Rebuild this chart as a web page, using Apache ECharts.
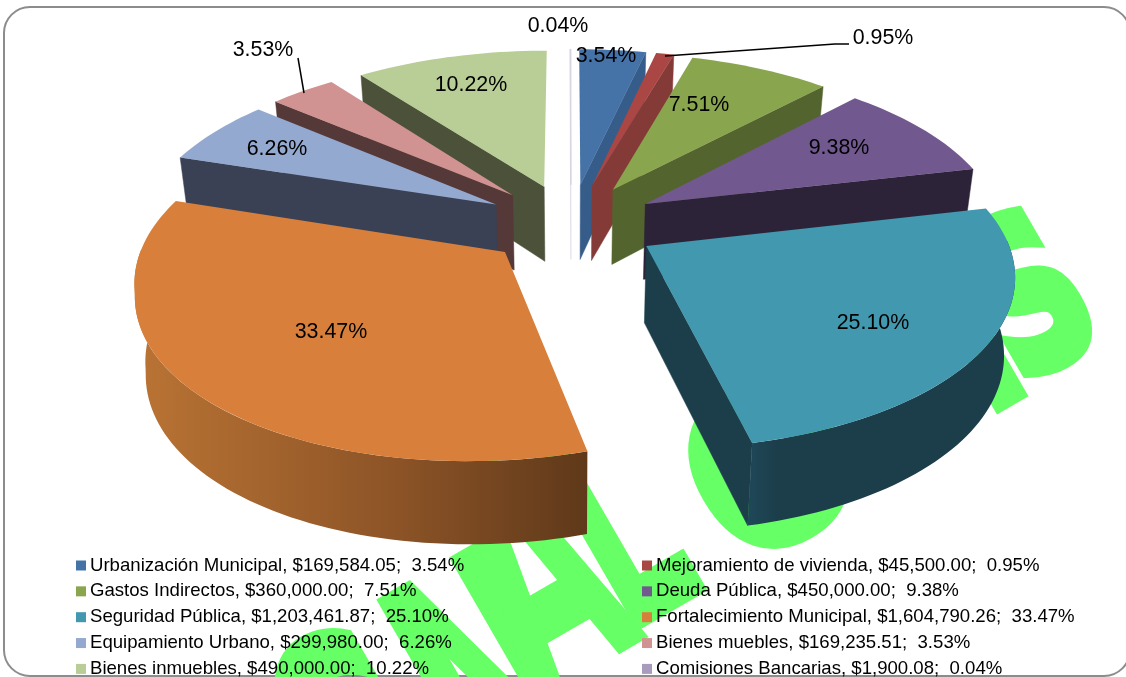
<!DOCTYPE html>
<html>
<head>
<meta charset="utf-8">
<title>Distribución</title>
<script src="https://cdn.jsdelivr.net/npm/echarts@6/dist/echarts.min.js"></script>
<style>
html,body{margin:0;padding:0;background:#fff;overflow:hidden}
#main{width:1126px;height:677px}
</style>
</head>
<body>
<div id="main"></div>
<script>
const names = ["Urbanización Municipal","Mejoramiento de vivienda","Gastos Indirectos","Deuda Pública","Seguridad Pública","Fortalecimiento Municipal","Equipamiento Urbano","Bienes muebles","Bienes inmuebles","Comisiones Bancarias"]
const amounts = [169584.05,45500.00,360000.00,450000.00,1203461.87,1604790.26,299980.00,169235.51,490000.00,1900.08]
const percents = ["3.54%","0.95%","7.51%","9.38%","25.10%","33.47%","6.26%","3.53%","10.22%","0.04%"]
const topColors = ["#4572a7","#aa4643","#89a54e","#71588f","#4198af","#d8803b","#93a9cf","#d19392","#b9cd96","#a99bbd"]
const wallColors = ["#365d8a","#843a36","#53642e","#2d2338","#1c3d4a","#8a5428","#3a4154","#553838","#4b5239","#d8d4e2"]
// back to front
const drawOrder = [9,8,0,1,2,7,6,3,5,4]

// pie projection
const cx = 571, cy = 224, scaleX = 356, scaleY = 166, persp = 0.146, explode = 0.245

const total = amounts.reduce((a,b)=>a+b,0)
let run = 0
const spans = amounts.map(v=>{
  const s = run/total*360
  run += v
  return [s, run/total*360]
})

function rad(d){ return d*Math.PI/180 }

function point(i, deg, r, low){
  const mid = rad((spans[i][0]+spans[i][1])/2)
  const u = explode*Math.sin(mid) + r*Math.sin(rad(deg))
  const v = -explode*Math.cos(mid) - r*Math.cos(rad(deg))
  const w = 1/(1-persp*v)
  let x = cx + scaleX*u*w
  let y = cy + scaleY*v*w
  if(low){
    x = cx + (x-cx)*0.975
    y += 76 + 6*v
  }
  return [x,y]
}

function arc(i, a, b, low){
  const pts = []
  const n = Math.max(2, Math.ceil((b-a)/1.5))
  for(let k=0;k<=n;k++){
    const deg = a+(b-a)*k/n
    // the big front left slice swells a little in the picture
    const r = (i==5 && deg<257) ? 1+0.035*Math.sin(Math.PI*(deg-spans[5][0])/(257-spans[5][0])) : 1
    pts.push(point(i, deg, r, low))
  }
  return pts
}

function makeRender(i){
  return function(params, api){
    const sweep = api.value(0)/total*360
    const a = spans[i][0], b = a+sweep
    const kids = []
    const wall = wallColors[i]
    const wallStyle = {fill:wall, stroke:wall, lineWidth:0.5}
    // side faces, only those turned to the viewer
    if(-Math.cos(rad(a-90))>0){
      kids.push({type:"polygon",shape:{points:[point(i,a,0),point(i,a,1),point(i,a,1,true),point(i,a,0,true)]},style:wallStyle})
    }
    if(-Math.cos(rad(b+90))>0){
      kids.push({type:"polygon",shape:{points:[point(i,b,0),point(i,b,1),point(i,b,1,true),point(i,b,0,true)]},style:wallStyle})
    }
    // outer rim, between the two outermost points of the ellipse
    if(i==4 || i==5){
      const ra = Math.max(a,88), rb = Math.min(b,271)
      let fill = new echarts.graphic.LinearGradient(0,0,1,0,[{offset:0,color:"#1f4858"},{offset:0.12,color:"#1c3d4a"},{offset:1,color:"#1c3d4a"}])
      if(i==5) fill = new echarts.graphic.LinearGradient(1,0,0,0,[{offset:0,color:"#5f391a"},{offset:0.43,color:"#8d5427"},{offset:1,color:"#ba7434"}])
      kids.push({type:"polygon",shape:{points:arc(i,ra,rb).concat(arc(i,ra,rb,true).reverse())},style:{fill:fill}})
    }
    // top face, the tiny last slice is only a pale line
    const face = i==9 ? wallColors[9] : topColors[i]
    kids.push({type:"polygon",shape:{points:[point(i,a,0)].concat(arc(i,a,b))},style:{fill:face,stroke:i==9?face:null,lineWidth:i==9?1:0}})
    return {type:"group",children:kids}
  }
}

const money = v=>"$"+v.toLocaleString("en-US",{minimumFractionDigits:2,maximumFractionDigits:2})
const legendText = name=>{
  const i = names.indexOf(name)
  return name+", "+money(amounts[i])+";  "+percents[i]
}
const legendBase = {
  orient:"vertical",
  top:556,
  height:200,
  padding:0,
  itemWidth:10,
  itemHeight:10,
  itemGap:6.85,
  icon:"rect",
  selectedMode:false,
  formatter:legendText,
  textStyle:{color:"#000",fontFamily:"Liberation Sans",fontSize:18.6,lineHeight:17,padding:[0,0,0,-1]},
  z:12
}

// label places on the picture
const labelPlaces = [[606,56],[883,38],[699,105],[839,148],[873,323],[331,332],[277,149],[263,50],[471,85],[558,26]]
const labels = percents.map((t,i)=>({
  type:"text",x:labelPlaces[i][0],y:labelPlaces[i][1],z:20,silent:true,
  style:{text:t,fill:"#000",font:'21.4px "Liberation Sans"',align:"center",verticalAlign:"middle"}
}))

// stamp behind the chart: letter, x, y, font size, x squeeze, outline
const stampLetters = [["G",378,785,340,0.5,6],["N",508,710,340,0.52,4],["A",546,592,340,0.5,4],["L",626,540,320,0.48,3],["O",780,482,210,0.88,14],["I",982,352,210,0.68,14],["S",1037,311,210,0.68,14]]
const stamp = stampLetters.map(l=>({
  type:"text",x:l[1],y:l[2],rotation:rad(30),scaleX:l[4],scaleY:1,z:-5,silent:true,
  style:{text:l[0],font:'bold '+l[3]+'px "DejaVu Sans"',fill:"#66ff66",stroke:"#66ff66",lineWidth:l[5],lineJoin:"miter",align:"center",verticalAlign:"middle"}
}))

const myChart = echarts.init(document.getElementById("main"),null,{renderer:"canvas"})
myChart.setOption({
  backgroundColor:"#fff",
  animation:false,
  color:topColors,
  legend:[
    Object.assign({},legendBase,{left:76,data:names.filter((n,i)=>i%2==0)}),
    Object.assign({},legendBase,{left:642,data:names.filter((n,i)=>i%2==1)})
  ],
  graphic:{elements:[
    {type:"rect",z:-10,silent:true,shape:{x:4,y:7,width:1126,height:669,r:26},style:{fill:"#fff",stroke:"#8c8c8c",lineWidth:2}},
    ...stamp,
    ...labels,
    {type:"polyline",z:19,silent:true,shape:{points:[[665,56],[835,44],[849,44]]},style:{stroke:"#000",lineWidth:1.5,fill:null}},
    {type:"polyline",z:19,silent:true,shape:{points:[[298,58],[304,93]]},style:{stroke:"#000",lineWidth:1.5,fill:null}}
  ]},
  series:drawOrder.map(i=>({
    type:"custom",
    name:names[i],
    coordinateSystem:"none",
    silent:true,
    itemStyle:{color:topColors[i]},
    renderItem:makeRender(i),
    data:[[amounts[i]]]
  }))
})
</script>
</body>
</html>
